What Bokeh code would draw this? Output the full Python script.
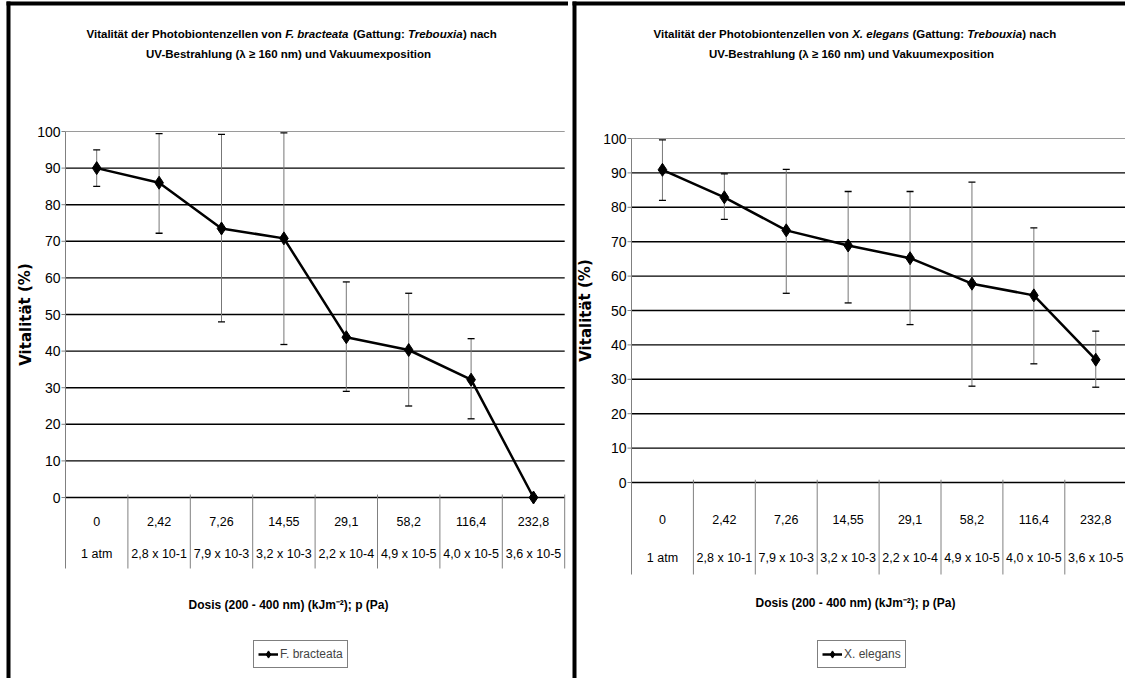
from bokeh.plotting import figure
from bokeh.models import Range1d, Legend, LegendItem, ColumnDataSource
from bokeh.layouts import row
from bokeh.embed import file_html
from bokeh.resources import INLINE
from bokeh.core.properties import value

nan = float("nan")

# ---------------- data ----------------
doses = ["0", "2,42", "7,26", "14,55", "29,1", "58,2", "116,4", "232,8"]
pressures = ["1 atm", "2,8 x 10-1", "7,9 x 10-3", "3,2 x 10-3", "2,2 x 10-4",
             "4,9 x 10-5", "4,0 x 10-5", "3,6 x 10-5"]
y_ticks = [0, 10, 20, 30, 40, 50, 60, 70, 80, 90, 100]

fb_vitality = [90.0, 86.0, 73.5, 70.8, 43.8, 40.3, 32.2, 0.0]
fb_upper = [95.0, 99.4, 99.2, 99.6, 58.9, 55.8, 43.4, nan]
fb_lower = [85.0, 72.2, 48.0, 41.8, 29.0, 25.0, 21.5, nan]

xe_vitality = [90.9, 82.9, 73.3, 68.9, 65.2, 57.8, 54.4, 35.7]
xe_upper = [99.6, 89.7, 91.0, 84.6, 84.6, 87.3, 74.0, 44.0]
xe_lower = [82.0, 76.5, 55.0, 52.2, 45.9, 28.0, 34.5, 27.7]

x_title = "Dosis (200 - 400 nm) (kJm\u207b\u00b2); p (Pa)"
y_title = "Vitalität (%)"
title2 = "UV-Bestrahlung (\u03bb \u2265 160 nm) und Vakuumexposition"

FONT = "Liberation Sans"
WIDE = "DejaVu Sans"

H = 678


def make_panel(cfg, means, upper, lower, series, title1):
    W = cfg["width"]
    X0, UX, Y0, UY = cfg["x0"], cfg["ux"], cfg["y0"], cfg["uy"]

    def u(sx):
        return (sx - X0) / UX

    def v(sy):
        return (Y0 - sy) / UY

    p = figure(width=W, height=H, title=None,
               x_range=Range1d(u(0), u(W)), y_range=Range1d(v(H), v(0)),
               output_backend="svg", toolbar_location=None,
               x_axis_location=None, y_axis_location=None,
               min_border=0, outline_line_color=None,
               background_fill_color="white", border_fill_color="white")
    p.grid.visible = False

    n = len(doses)
    tb = cfg["table_bottom"]

    # panel frame borders
    bx = cfg["border_x"]
    p.segment(x0=[u(bx)], y0=[v(H)], x1=[u(bx)], y1=[v(1)],
              line_color="black", line_width=4)
    p.segment(x0=[u(bx - 2)], y0=[v(3)], x1=[u(W)], y1=[v(3)],
              line_color="black", line_width=4)

    # horizontal grid lines
    inner = [t for t in y_ticks if 0 < t < 100]
    p.segment(x0=[0] * len(inner), y0=inner, x1=[n] * len(inner), y1=inner,
              line_color="black", line_width=1.4)
    p.segment(x0=[0], y0=[100], x1=[n], y1=[100], line_color="#9a9a9a", line_width=1)
    p.segment(x0=[0], y0=[0], x1=[n], y1=[0], line_color="black", line_width=1.4)

    # y axis line, ticks, labels
    p.segment(x0=[0], y0=[100], x1=[0], y1=[v(tb)], line_color="#808080", line_width=1)
    p.segment(x0=[u(X0 - 4)] * len(y_ticks), y0=y_ticks, x1=[0] * len(y_ticks), y1=y_ticks,
              line_color="#808080", line_width=1)
    p.text(x=[u(X0 - 5)] * len(y_ticks), y=y_ticks, text=[str(t) for t in y_ticks],
           text_align="right", text_baseline="middle", text_color="black",
           text_font=value(FONT), text_font_size="14px")

    # category table
    seps = list(range(1, n + 1))
    p.segment(x0=seps, y0=[0.8] * n, x1=seps, y1=[v(tb)] * n,
              line_color="#808080", line_width=1)
    centers = [i + 0.5 for i in range(n)]
    p.text(x=centers, y=[v(cfg["row1"])] * n, text=doses, text_align="center",
           text_baseline="middle", text_font=value(FONT), text_font_size="12.5px",
           text_color="black")
    p.text(x=centers, y=[v(cfg["row2"])] * n, text=pressures, text_align="center",
           text_baseline="middle", text_font=value(FONT), text_font_size="12.5px",
           text_color="black")

    # axis titles
    p.text(x=[u(cfg["xt_x"])], y=[v(cfg["xt_y"])], text=[x_title], text_align="center",
           text_baseline="middle", text_font=value(FONT), text_font_style="bold",
           text_font_size="12px", text_color="black")
    p.text(x=[u(cfg["yt_x"])], y=[v(cfg["yt_y"])], text=[y_title], angle=1.5708,
           text_align="center", text_baseline="middle", text_font=value(WIDE),
           text_font_style="bold", text_font_size="15px", text_color="black")

    # chart title (mixed upright / italic)
    for txt, sx, style in title1:
        p.text(x=[u(sx)], y=[v(cfg["t1_y"])], text=[txt], text_align="left",
               text_baseline="middle", text_font=value(FONT), text_font_style=style,
               text_font_size="11.5px", text_color="black")
    p.text(x=[u(cfg["t2_x"])], y=[v(cfg["t2_y"])], text=[title2], text_align="center",
           text_baseline="middle", text_font=value(FONT), text_font_style="bold",
           text_font_size="11.5px", text_color="black")

    # error bars
    src = ColumnDataSource(dict(x=centers, m=means, hi=upper, lo=lower))
    p.segment(x0="x", y0="lo", x1="x", y1="hi", source=src, line_color="#777777", line_width=1)
    p.scatter(x="x", y="hi", source=src, marker="dash", size=7, line_color="black", line_width=1.3)
    p.scatter(x="x", y="lo", source=src, marker="dash", size=7, line_color="black", line_width=1.3)

    # series
    lr = p.line(x="x", y="m", source=src, line_color="black", line_width=2.5)
    sr = p.scatter(x="x", y="m", source=src, marker="diamond", size=13,
                   fill_color="black", line_color="black")

    legend = Legend(items=[LegendItem(label=series, renderers=[lr, sr])],
                    location=(cfg["leg_x"], cfg["leg_y"]),
                    border_line_color="black", border_line_width=1,
                    background_fill_color="white", background_fill_alpha=1,
                    padding=4, margin=0, spacing=0, label_standoff=2,
                    glyph_width=20, glyph_height=18, label_height=18,
                    label_text_font=FONT, label_text_font_size="12px")
    p.add_layout(legend)
    return p


left_cfg = dict(width=568, x0=65, ux=62.4, y0=497, uy=3.66, border_x=8,
                table_bottom=568, row1=521, row2=553, xt_x=288, xt_y=604,
                yt_x=25, yt_y=314, t1_y=33, t2_x=288, t2_y=53, leg_x=253, leg_y=10)
right_cfg = dict(width=557, x0=63, ux=61.9, y0=482, uy=3.44, border_x=6,
                 table_bottom=574, row1=519, row2=557, xt_x=287, xt_y=602,
                 yt_x=17, yt_y=310, t1_y=33, t2_x=283, t2_y=53, leg_x=249, leg_y=10)

left_title = [("Vitalität der Photobiontenzellen von", 86, "bold"),
              ("F. bracteata", 284.7, "bold italic"),
              ("(Gattung:", 352.5, "bold"),
              ("Trebouxia", 407.4, "bold italic"),
              (") nach", 462.4, "bold")]
right_title = [("Vitalität der Photobiontenzellen von", 85, "bold"),
               ("X. elegans", 283.7, "bold italic"),
               ("(Gattung:", 343.9, "bold"),
               ("Trebouxia", 398.8, "bold italic"),
               (") nach", 453.8, "bold")]

p1 = make_panel(left_cfg, fb_vitality, fb_upper, fb_lower, "F. bracteata", left_title)
p2 = make_panel(right_cfg, xe_vitality, xe_upper, xe_lower, "X. elegans", right_title)

layout = row(p1, p2, spacing=0)
open("out.html", "w").write(file_html(layout, INLINE))
